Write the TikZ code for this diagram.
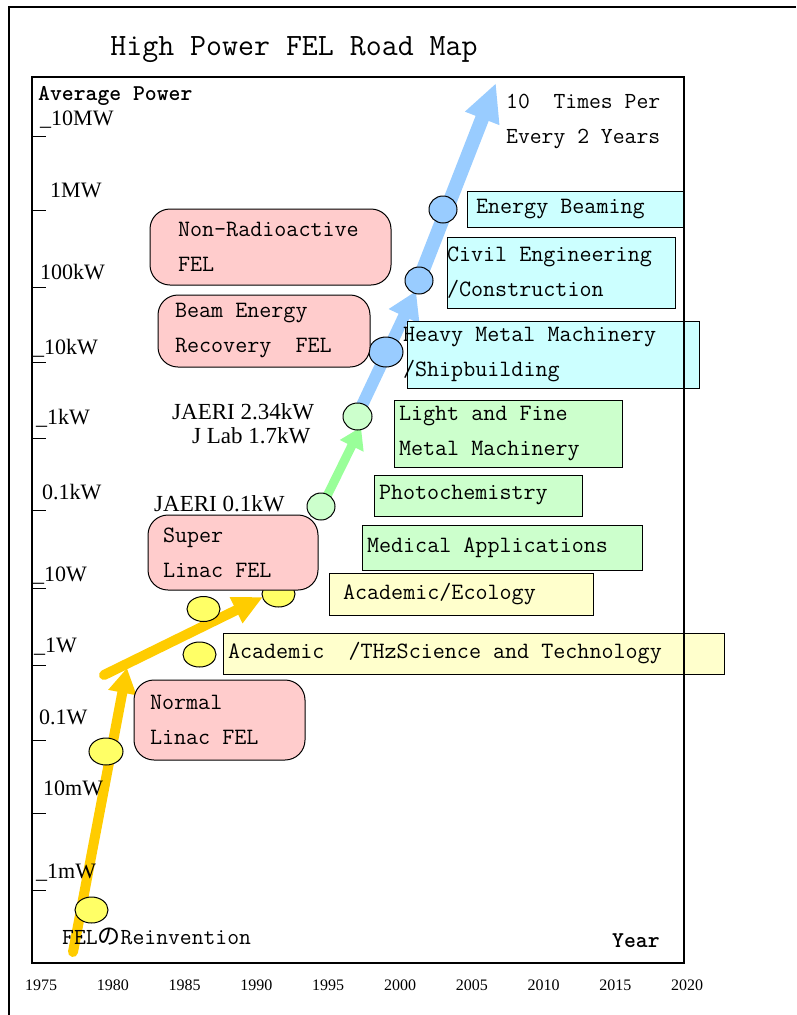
\documentclass[tikz,border=0pt]{standalone}
\usepackage{fontspec}
\setmainfont{Liberation Serif}
\newfontfamily\jpfont{Noto Sans CJK JP}
\usetikzlibrary{arrows.meta,shapes.geometric}

\definecolor{pinkfill}{HTML}{FFCCCC}
\definecolor{cyanfill}{HTML}{CCFFFF}
\definecolor{greenfill}{HTML}{CCFFCC}
\definecolor{yellowfill}{HTML}{FFFFCC}
\definecolor{dotyellow}{HTML}{FFFF66}
\definecolor{dotblue}{HTML}{99CCFF}
\definecolor{arryellow}{HTML}{FFCC00}
\definecolor{arrgreen}{HTML}{99FF99}
\definecolor{arrblue}{HTML}{99CCFF}

\newcommand\monofont{\ttfamily\fontsize{23}{35}\selectfont}
\newcommand\boxfont{\ttfamily\fontsize{23.4}{35}\selectfont}
\newcommand\fixspace{\spaceskip=0pt\relax\xspaceskip=0pt\relax}

\tikzset{
  mapbox/.style={draw, line width=1pt, inner sep=0pt, align=left, font=\boxfont, execute at begin node=\fixspace},
  pinkbox/.style={mapbox, fill=pinkfill, rounded corners=20pt},
  cyanbox/.style={mapbox, fill=cyanfill},
  greenbox/.style={mapbox, fill=greenfill},
  yellowbox/.style={mapbox, fill=yellowfill},
  dot/.style={ellipse, draw, line width=1pt, inner sep=0pt},
  lbl/.style={inner sep=0pt, anchor=west},
}

\begin{document}
\begin{tikzpicture}[x=1pt,y=-1pt]
\useasboundingbox (0,0) rectangle (796,1015);

% arrow ends
\coordinate (ya0) at (73,952);
\coordinate (ya1) at (127,668);
\coordinate (yb0) at (104,675);
\coordinate (yb1) at (263,597);
\coordinate (ga0) at (326,498);
\coordinate (ga1) at (361,427);
\coordinate (ba0) at (357,416);
\coordinate (ba1) at (416,291);
\coordinate (bb0) at (419,280);
\coordinate (bb1) at (496,83);

\draw[arryellow,line width=10pt,line cap=round,-{Triangle[length=25pt,width=27pt]}] (ya0) -- (ya1);
\draw[arryellow,line width=10pt,line cap=round,-{Triangle[length=30pt,width=27pt]}] (yb0) -- (yb1);
\draw[arrgreen,line width=9pt,-{Triangle[length=21pt,width=25pt]}] (ga0) -- (ga1);
\draw[arrblue,line width=12pt,-{Triangle[length=28pt,width=32pt]}] (ba0) -- (ba1);
\draw[arrblue,line width=14pt,-{Triangle[length=38pt,width=34pt]}] (bb0) -- (bb1);

% milestones
\node[dot,fill=dotyellow,minimum width=33pt,minimum height=26pt] (y1) at (91.5,910) {};
\node[dot,fill=dotyellow,minimum width=34pt,minimum height=27pt] (y2) at (106,751.5) {};
\node[dot,fill=dotyellow,minimum width=33pt,minimum height=25pt] (y3) at (199.5,654.5) {};
\node[dot,fill=dotyellow,minimum width=33pt,minimum height=25pt] (y4) at (203.5,609) {};
\node[dot,fill=dotyellow,minimum width=33pt,minimum height=26pt] (y5) at (278.5,594) {};
\node[dot,fill=greenfill,minimum width=28pt,minimum height=27pt] (g1) at (321,506.5) {};
\node[dot,fill=greenfill,minimum width=29pt,minimum height=27pt] (g2) at (357.5,416.5) {};
\node[dot,fill=dotblue,minimum width=34pt,minimum height=30pt] (b1) at (386,352) {};
\node[dot,fill=dotblue,minimum width=28pt,minimum height=27pt] (b2) at (419,280.5) {};
\node[dot,fill=dotblue,minimum width=28pt,minimum height=27pt] (b3) at (443,209.5) {};

% FEL types
\node[pinkbox,minimum width=241pt,minimum height=76pt,text width=185pt] (nonrad) at (270.5,247) {Non-Radioactive\\FEL};
\node[pinkbox,minimum width=212pt,minimum height=72pt,text width=178pt] (erl) at (264,331) {Beam Energy\\Recovery\ \ FEL};
\node[pinkbox,minimum width=170pt,minimum height=75pt,text width=140pt] (super) at (233,552.5) {Super\\Linac FEL};
\node[pinkbox,minimum width=171pt,minimum height=80pt,text width=139pt] (normal) at (219.5,720) {Normal\\Linac FEL};

% applications
\node[cyanbox,minimum width=217pt,minimum height=36pt,text width=199pt] (beaming) at (575.5,209) {Energy Beaming};
\node[cyanbox,minimum width=228pt,minimum height=71pt,text width=228pt] (civil) at (561,272.5) {Civil Engineering\\/Construction};
\node[cyanbox,minimum width=292pt,minimum height=67pt,text width=292pt] (heavy) at (553,354.5) {\hspace*{-4pt}Heavy Metal Machinery\\\hspace*{-4pt}/Shipbuilding};
\node[greenbox,minimum width=228pt,minimum height=67pt,text width=218pt] (light) at (508,433.5) {Light and Fine\\Metal Machinery};
\node[greenbox,minimum width=208pt,minimum height=41pt,text width=198pt] (photo) at (478,495.5) {Photochemistry};
\node[greenbox,minimum width=280pt,minimum height=45pt,text width=270pt] (medical) at (502,547.5) {Medical Applications};
\node[yellowbox,minimum width=264pt,minimum height=42pt,text width=236pt] (ecology) at (461,594) {Academic/Ecology};
\node[yellowbox,minimum width=501pt,minimum height=41pt,text width=491pt] (thz) at (473.5,653.5) {Academic\ \ /THzScience and Technology};

% texts
\node[font=\ttfamily\fontsize{31}{36}\selectfont,inner sep=0pt] (title) at (294,50) {High Power FEL Road Map};
\node[lbl,font=\ttfamily\bfseries\fontsize{22.6}{30}\selectfont] (avg) at (38,96) {Average Power};
\node[lbl,font=\ttfamily\bfseries\fontsize{22.6}{30}\selectfont] (year) at (612,941) {Year};
\node[lbl,font=\monofont,align=left] (rate) at (506,121) {10\ \ Times Per\\Every 2 Years};
\node[lbl,font=\monofont] (reinv) at (62,937) {FEL{\jpfont の}Reinvention};
\node[lbl,font=\fontsize{23}{28}\selectfont] (jaeri2) at (172,412) {JAERI 2.34kW};
\node[lbl,font=\fontsize{23}{28}\selectfont] (jlab) at (192,436) {J Lab 1.7kW};
\node[lbl,font=\fontsize{23}{28}\selectfont] (jaeri1) at (154,504) {JAERI 0.1kW};

% power axis
\foreach \ty in {136,210,287,362,438,510,588,665,740,813,890}
  \draw[line width=1pt] (33,\ty) -- (46,\ty);
\foreach \lab/\lx/\ly [count=\i] in {\_10MW/40/120, 1MW/50/190, 100kW/40/272, \_10kW/33/348, \_1kW/36/418, 0.1kW/42/492, \_10W/33/576, \_1W/34/647, 0.1W/39/717, 10mW/43/788, \_1mW/36/873}
  \node[lbl,font=\fontsize{22}{26}\selectfont] (pw\i) at (\lx,\ly) {\lab};

% year axis
\foreach \yr [count=\i from 0] in {1975,1980,...,2020}
  \node[font=\fontsize{16}{18}\selectfont,inner sep=0pt] (yr\yr) at ({41+71.8*\i},985) {\yr};

% frames
\draw[line width=1.2pt] (32,77) rectangle (684,963);
\draw[line width=2pt] (9,1015) -- (9,7) -- (796,7);
\end{tikzpicture}
\end{document}
